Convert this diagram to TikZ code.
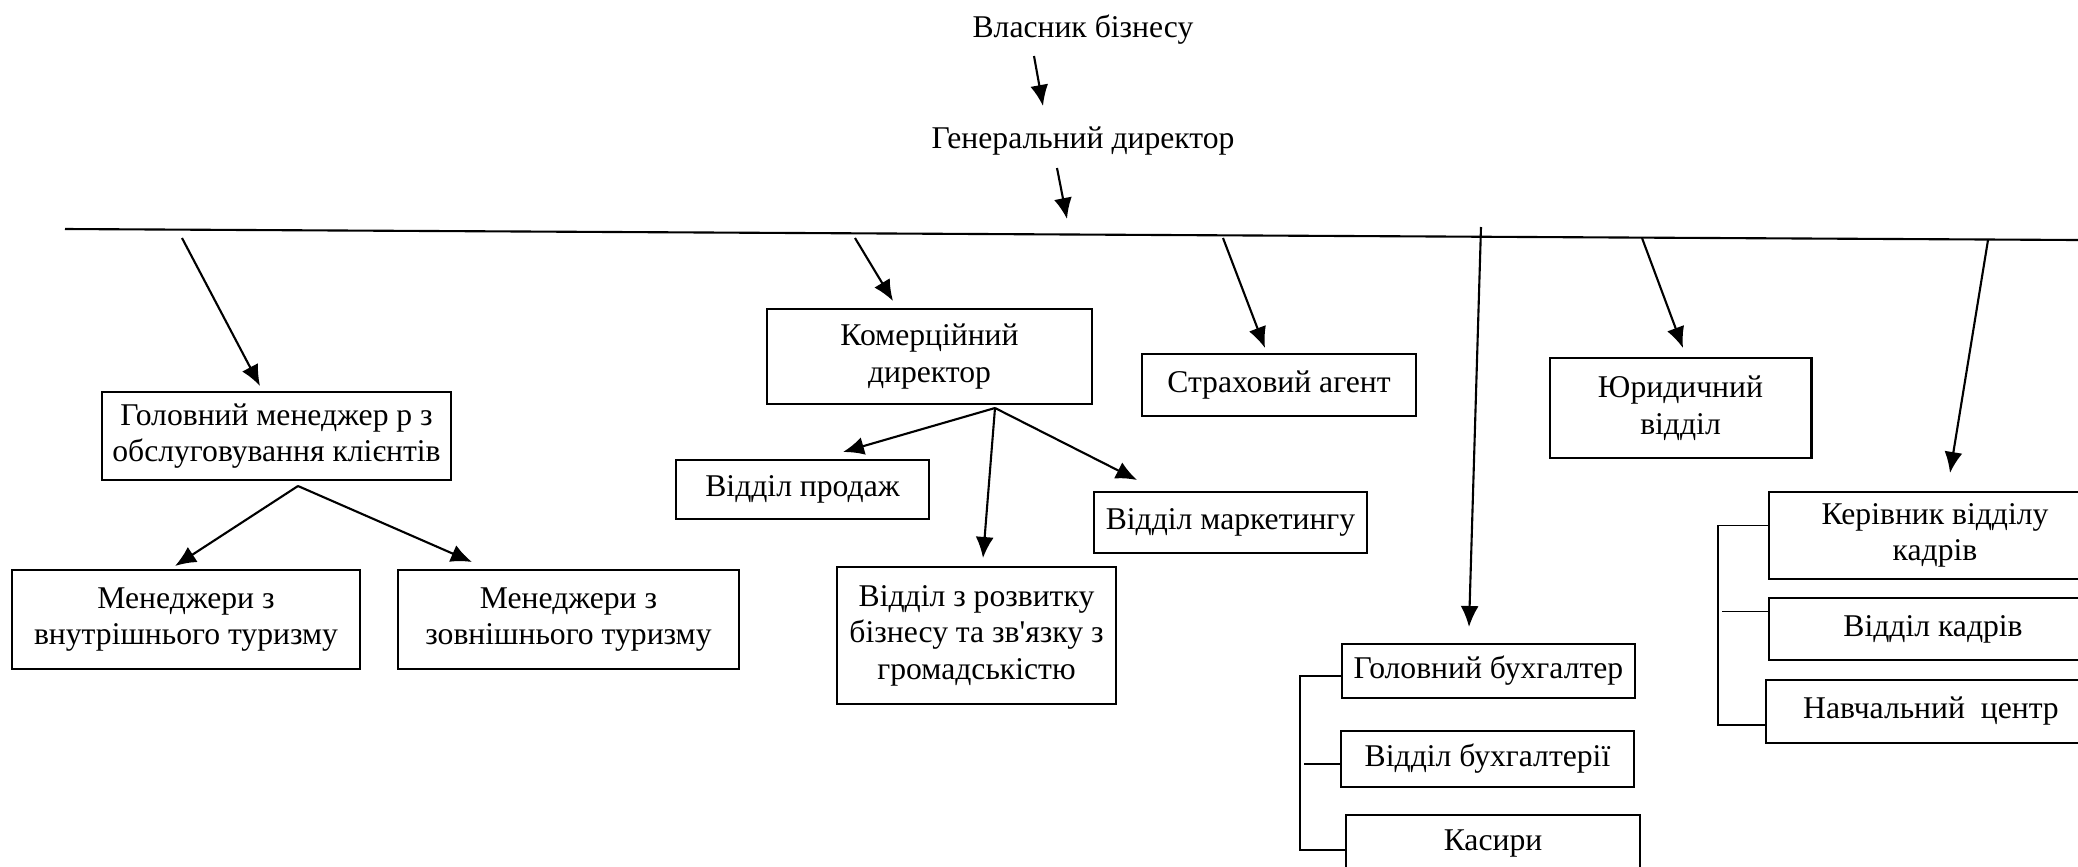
\documentclass[tikz,border=0pt]{standalone}
\usepackage{fontspec}
\setmainfont{Liberation Serif}[Ligatures=TeXOff]
\usetikzlibrary{arrows.meta}
\tikzset{
  unit/.style={draw,line width=0.45pt,align=center,inner sep=0pt},
  thickunit/.style={unit,line width=0.8pt},
  arr/.style={line width=0.6pt,-{Latex[length=2.1mm,width=1.8mm]}},
  link/.style={line width=0.45pt},
}
\begin{document}
\begin{tikzpicture}[x=0.01cm,y=-0.01cm,font=\fontsize{9}{10.4}\selectfont]
  \clip (0,0) rectangle (2078,866);

  % Owner and general director
  \node (owner) at (1083,30) {Власник бізнесу};
  \node (ceo) at (1083,141) {Генеральний директор};
  \coordinate (ownerout) at (1034,56);
  \coordinate (ceoin) at (1043,106);
  \coordinate (ceoout) at (1057,168);
  \coordinate (busin) at (1067,219);
  \draw [arr] (ownerout) -- (ceoin);
  \draw [arr] (ceoout) -- (busin);

  % Drawing the bus line
  \coordinate (busL) at (65,229);
  \coordinate (busR) at (2078,240);
  \draw [line width=0.6pt] (busL) -- (busR);

  % Customer service branch
  \node [unit,minimum width=3.49cm,minimum height=0.88cm] (mgr) at (276.5,436)
    {Головний менеджер р з\\обслуговування клієнтів};
  \node [unit,minimum width=3.48cm,minimum height=0.99cm] (dom) at (186,619.5)
    {Менеджери з\\внутрішнього туризму};
  \node [unit,minimum width=3.41cm,minimum height=0.99cm] (intl) at (568.5,619.5)
    {Менеджери з\\зовнішнього туризму};
  \coordinate (b1) at (182,238);
  \coordinate (mgrin) at (260,386);
  \coordinate (mgrout) at (298,486);
  \coordinate (domin) at (175,566);
  \coordinate (intlin) at (472,562);
  \draw [arr] (b1) -- (mgrin);
  \draw [arr] (mgrout) -- (domin);
  \draw [arr] (mgrout) -- (intlin);

  % Commercial director branch
  \node [unit,minimum width=3.25cm,minimum height=0.95cm] (com) at (929.5,356.5)
    {Комерційний\\директор};
  \node [unit,minimum width=2.53cm,minimum height=0.59cm] (sales) at (802.5,489.5)
    {Відділ продаж};
  \node [unit,minimum width=2.79cm,minimum height=1.37cm] (dev) at (976.5,635.5)
    {Відділ з розвитку\\бізнесу та зв'язку з\\громадськістю};
  \node [unit,minimum width=2.73cm,minimum height=0.61cm] (mkt) at (1230.5,522.5)
    {Відділ маркетингу};
  \coordinate (b2) at (855,238);
  \coordinate (comin) at (893,301);
  \coordinate (comout) at (995,408);
  \coordinate (salesin) at (843,452);
  \coordinate (devin) at (983,558);
  \coordinate (mktin) at (1137,480);
  \draw [arr] (b2) -- (comin);
  \draw [arr] (comout) -- (salesin);
  \draw [arr] (comout) -- (devin);
  \draw [arr] (comout) -- (mktin);

  % Insurance agent
  \node [unit,minimum width=2.74cm,minimum height=0.62cm] (ins) at (1279,385)
    {Страховий агент};
  \coordinate (b3) at (1223,238);
  \coordinate (insin) at (1265,348);
  \draw [arr] (b3) -- (insin);

  % Accounting branch
  \node [unit,minimum width=2.93cm,minimum height=0.54cm] (chief) at (1488.5,671)
    {Головний бухгалтер};
  \node [unit,minimum width=2.93cm,minimum height=0.56cm] (acct) at (1487.5,759)
    {Відділ бухгалтерії};
  \node [unit,minimum width=2.94cm,minimum height=0.56cm] (cash) at (1493,843)
    {Касири};
  \coordinate (b4) at (1481,227);
  \coordinate (chiefin) at (1469,627);
  \draw [arr] (b4) -- (chiefin);
  \draw [link] ([yshift=-1.4pt]chief.west) -- ++(-41,0) |- ([yshift=-2pt]cash.west);
  \draw [link] ([yshift=-1.4pt]acct.west) -- ++(-36,0);

  % Legal department
  \node [thickunit,minimum width=2.61cm,minimum height=1.00cm] (legal) at (1680.5,408)
    {Юридичний\\відділ};
  \coordinate (b5) at (1642,238);
  \coordinate (legalin) at (1683,348);
  \draw [arr] (b5) -- (legalin);

  % Personnel branch
  \node [unit,minimum width=3.32cm,minimum height=0.87cm] (hrhead) at (1935,535.5)
    {Керівник відділу\\кадрів};
  \node [unit,minimum width=3.28cm,minimum height=0.62cm] (hr) at (1933,629)
    {Відділ кадрів};
  \node [unit,minimum width=3.30cm,minimum height=0.63cm] (train) at (1931,711.5)
    {Навчальний\ \ центр};
  \coordinate (b6) at (1988,240);
  \coordinate (hrheadin) at (1950,473);
  \draw [arr] (b6) -- (hrheadin);
  \draw [link] ([yshift=2.8pt]hrhead.west) -- ++(-50,0) |- ([yshift=-3.9pt]train.west);
  \draw [link] ([yshift=5pt]hr.west) -- ++(-46,0);
\end{tikzpicture}
\end{document}
